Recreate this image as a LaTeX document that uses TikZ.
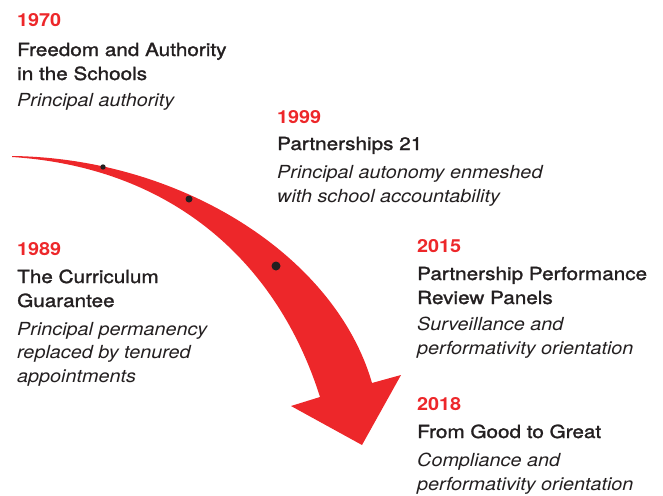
\documentclass[tikz,border=0pt]{standalone}
\usepackage{fontspec}
\setmainfont{TeX Gyre Heros}[FakeStretch=1.1]
\newfontfamily\medfont{TeX Gyre Heros}[FakeStretch=1.15, FakeBold=1.5]
\usepackage{tikz}
\usetikzlibrary{positioning}

\definecolor{tlred}{RGB}{237,39,42}
\definecolor{tlink}{RGB}{35,31,32}

\begin{document}
\begin{tikzpicture}[
    x=1pt, y=-1pt,
    yearlbl/.style={
        font=\fontsize{18}{24}\selectfont\bfseries, text=tlred,
        anchor=base west, inner sep=0pt
    },
    titlelbl/.style={
        font=\fontsize{18}{24}\selectfont\medfont, text=tlink,
        anchor=base west, align=left, inner sep=0pt
    },
    notelbl/.style={
        font=\fontsize{18}{23.5}\selectfont\itshape, text=tlink,
        anchor=base west, align=left, inner sep=0pt
    },
    stop/.style={circle, fill=tlink, inner sep=0pt},
]
\useasboundingbox (0,0) rectangle (663,495);

% ---- Curved arrow ----
\fill[tlred] (12,156) .. controls (180,158) and (335,255) .. (372,383)
    -- (401,375) -- (362,445) -- (291,406) -- (320,397)
    .. controls (280,270) and (180,168) .. (12,157) -- cycle;

% ---- Stops on the arrow ----
\node[stop, minimum size=5.4pt] (s1) at (103,167) {};
\node[stop, minimum size=7pt]   (s2) at (189,199) {};
\node[stop, minimum size=9pt]   (s3) at (276,266) {};

% ---- 1970 (multi-line nodes sit on their last baseline) ----
\node[yearlbl]  (y1970) at (17,27)  {1970};
\node[titlelbl] (t1970) at (17,80)  {Freedom and Authority\\in the Schools};
\node[notelbl]  (n1970) at (17,106) {Principal authority};

% ---- 1999 ----
\node[yearlbl]  (y1999) at (277,123) {1999};
\node[titlelbl] (t1999) at (277,150) {Partnerships 21};
\node[notelbl]  (n1999) at (277,202) {Principal autonomy enmeshed\\with school accountability};

% ---- 1989 ----
\node[yearlbl]  (y1989) at (17,255) {1989};
\node[titlelbl] (t1989) at (17,307) {The Curriculum\\Guarantee};
\node[notelbl]  (n1989) at (17,382) {Principal permanency\\replaced by tenured\\appointments};

% ---- 2015 ----
\node[yearlbl]  (y2015) at (417,252) {2015};
\node[titlelbl] (t2015) at (417,304) {Partnership Performance\\Review Panels};
\node[notelbl]  (n2015) at (417,354) {Surveillance and\\performativity orientation};

% ---- 2018 ----
\node[yearlbl]  (y2018) at (417,410) {2018};
\node[titlelbl] (t2018) at (417,438) {From Good to Great};
\node[notelbl]  (n2018) at (417,490) {Compliance and\\performativity orientation};

\end{tikzpicture}
\end{document}
